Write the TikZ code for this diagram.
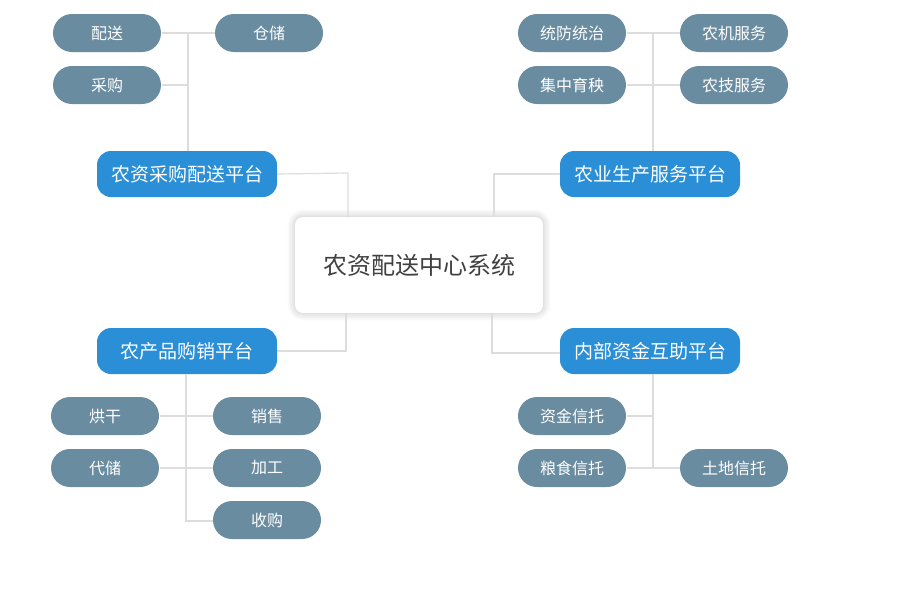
\documentclass[tikz,border=0pt]{standalone}
\usepackage{fontspec}
\setmainfont{Noto Sans CJK SC}
\usetikzlibrary{shadows.blur}
\definecolor{leaf}{HTML}{6A8CA1}
\definecolor{plat}{HTML}{2A8FD6}
\definecolor{ln}{HTML}{DDDDDD}
\begin{document}
\begin{tikzpicture}[x=1pt,y=-1pt,
 leafbox/.style={fill=leaf,text=white,rounded corners=19pt,minimum width=108pt,minimum height=38pt,font=\fontsize{16}{16}\selectfont,inner sep=0pt},
 platbox/.style={fill=plat,text=white,rounded corners=14pt,minimum width=180pt,minimum height=46pt,font=\fontsize{19}{19}\selectfont,inner sep=0pt},
 con/.style={draw=ln,line width=1.2pt}]
\useasboundingbox (0,0) rectangle (900,600);
\node[fill=white,rounded corners=8pt,minimum width=248pt,minimum height=96pt,font=\fontsize{24}{24}\selectfont,text=black!75,blur shadow={shadow blur steps=8,shadow xshift=0pt,shadow yshift=0pt,shadow blur radius=8pt,shadow opacity=25},inner sep=0pt] (c) at (419,265) {农资配送中心系统};
% top-left
\node[platbox] (p1) at (187,174) {农资采购配送平台};
\coordinate (v1t) at (188,33);
\draw[con] (v1t) -- (188,151);
\draw[con] (162,33) -- (215,33);
\draw[con] (162,85) -- (188,85);
\draw[con] (p1.east) -- (348,173) -- (348,217);
\node[leafbox] (a1) at (107,33) {配送};
\node[leafbox] (a2) at (269,33) {仓储};
\node[leafbox] (a3) at (107,85) {采购};
% top-right
\node[platbox] (p2) at (650,174) {农业生产服务平台};
\draw[con] (653,33) -- (653,151);
\draw[con] (627,33) -- (680,33);
\draw[con] (627,85) -- (680,85);
\draw[con] (p2.west) -- (494,174) -- (494,217);
\node[leafbox] (b1) at (572,33) {统防统治};
\node[leafbox] (b2) at (734,33) {农机服务};
\node[leafbox] (b3) at (572,85) {集中育秧};
\node[leafbox] (b4) at (734,85) {农技服务};
% bottom-left
\node[platbox] (p3) at (187,351) {农产品购销平台};
\draw[con] (346,313) -- (346,351) -- (p3.east);
\draw[con] (186,374) -- (186,521) -- (213,521);
\draw[con] (160,416) -- (213,416);
\draw[con] (160,468) -- (213,468);
\node[leafbox] (d1) at (105,416) {烘干};
\node[leafbox] (d2) at (267,416) {销售};
\node[leafbox] (d3) at (105,468) {代储};
\node[leafbox] (d4) at (267,468) {加工};
\node[leafbox] (d5) at (267,520) {收购};
% bottom-right
\node[platbox] (p4) at (650,351) {内部资金互助平台};
\draw[con] (492,313) -- (492,353) -- (560,353);
\draw[con] (653,374) -- (653,468);
\draw[con] (627,416) -- (653,416);
\draw[con] (627,468) -- (680,468);
\node[leafbox] (e1) at (572,416) {资金信托};
\node[leafbox] (e2) at (572,468) {粮食信托};
\node[leafbox] (e3) at (734,468) {土地信托};
\end{tikzpicture}
\end{document}
